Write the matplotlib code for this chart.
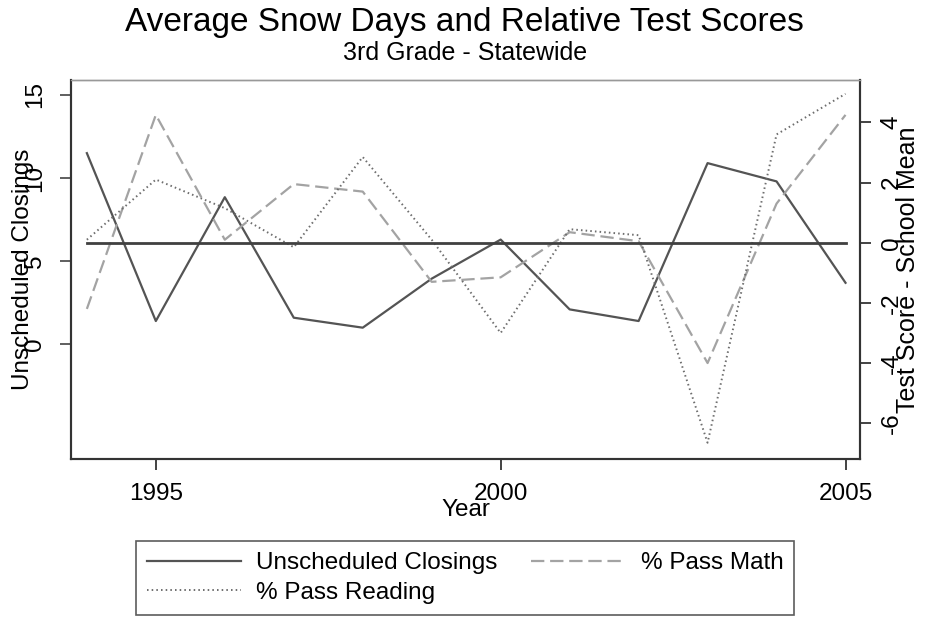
import matplotlib
matplotlib.use("Agg")
import matplotlib.pyplot as plt

plt.rcParams['font.family'] = ['Liberation Sans', 'DejaVu Sans']

years = [1994, 1995, 1996, 1997, 1998, 1999, 2000, 2001, 2002, 2003, 2004, 2005]
closings = [11.5, 1.4, 8.85, 1.6, 1.0, 3.95, 6.3, 2.1, 1.4, 10.9, 9.8, 3.7]
pass_math = [-2.2, 4.25, 0.1, 1.95, 1.7, -1.3, -1.15, 0.35, 0.05, -4.0, 1.3, 4.25]
pass_reading = [0.1, 2.1, 1.15, -0.15, 2.85, 0.1, -3.0, 0.45, 0.25, -6.65, 3.6, 4.95]
zero_line = [0] * len(years)

left_ticks = [0, 5, 10, 15]
right_ticks = [-6, -4, -2, 0, 2, 4]
x_ticks = [1995, 2000, 2005]

fig = plt.figure(figsize=(9.28, 6.18), dpi=100)
ax = fig.add_axes([71/928, 1-459/618, (860-71)/928, (459-80)/618])
ax2 = ax.twinx()

c_close = '#545454'
c_math = '#a3a3a3'
c_read = '#6e6e6e'

l1, = ax.plot(years, closings, color=c_close, lw=1.6, label='Unscheduled Closings')
l2, = ax2.plot(years, pass_math, color=c_math, lw=1.6, linestyle=(0, (6.0, 2.6)), label='% Pass Math')
l3, = ax2.plot(years, pass_reading, color=c_read, lw=1.4, linestyle=(0, (0.8, 1.6)), label='% Pass Reading')
ax2.plot(years, zero_line, color='#404040', lw=2.0)

ax.set_xlim(1993.77, 2005.21)
ax.set_ylim(-6.9, 15.9)
ax2.set_ylim(-7.19, 5.41)

ax.set_xticks(x_ticks)
ax.set_xticklabels([str(t) for t in x_ticks])
ax.set_yticks(left_ticks)
ax.set_yticklabels([str(t) for t in left_ticks], rotation=90, va='center')
ax2.set_yticks(right_ticks)
ax2.set_yticklabels([str(t) for t in right_ticks], rotation=90, va='center')

ax.tick_params(axis='x', length=8, width=1.2, pad=9, labelsize=17.5, color='#222222')
ax.tick_params(axis='y', length=8, width=1.2, pad=10, labelsize=17.5, color='#444444')
ax2.tick_params(axis='y', length=8, width=1.2, pad=7, labelsize=17.5, color='#222222')

for a in (ax, ax2):
    for s in ('left', 'bottom', 'right'):
        a.spines[s].set_color('#333333')
        a.spines[s].set_linewidth(1.5)
    a.spines['top'].set_color('#999999')
    a.spines['top'].set_linewidth(1.0)

ax.set_xlabel('Year', fontsize=17.5)
ax.xaxis.set_label_coords(0.5, -(510-459)/379)
ax.xaxis.label.set_va('center')

ax.set_ylabel('Unscheduled Closings', fontsize=17.5)
ax.yaxis.set_label_coords((23-71)/789, 0.5)
ax.yaxis.label.set_va('center')

ax2.set_ylabel('Test Score - School Mean', fontsize=18, rotation=90)
ax2.yaxis.set_label_coords((908-71)/789, 0.5)
ax2.yaxis.label.set_va('center')

fig.text(464/928, 1-23/618, 'Average Snow Days and Relative Test Scores', ha='center', va='center', fontsize=24)
fig.text(465/928, 1-53/618, '3rd Grade - Statewide', ha='center', va='center', fontsize=18)

leg = fig.legend(handles=[l1, l3, l2], loc='center', bbox_to_anchor=(465/928, 1-578/618),
                 ncol=2, fontsize=17.5, frameon=True, fancybox=False, edgecolor='#333333',
                 handlelength=3.9, handletextpad=0.6, columnspacing=1.4, labelspacing=0.3,
                 borderpad=0.45, borderaxespad=0)
leg.get_frame().set_linewidth(1.2)

fig.savefig('out.png', dpi=100)
